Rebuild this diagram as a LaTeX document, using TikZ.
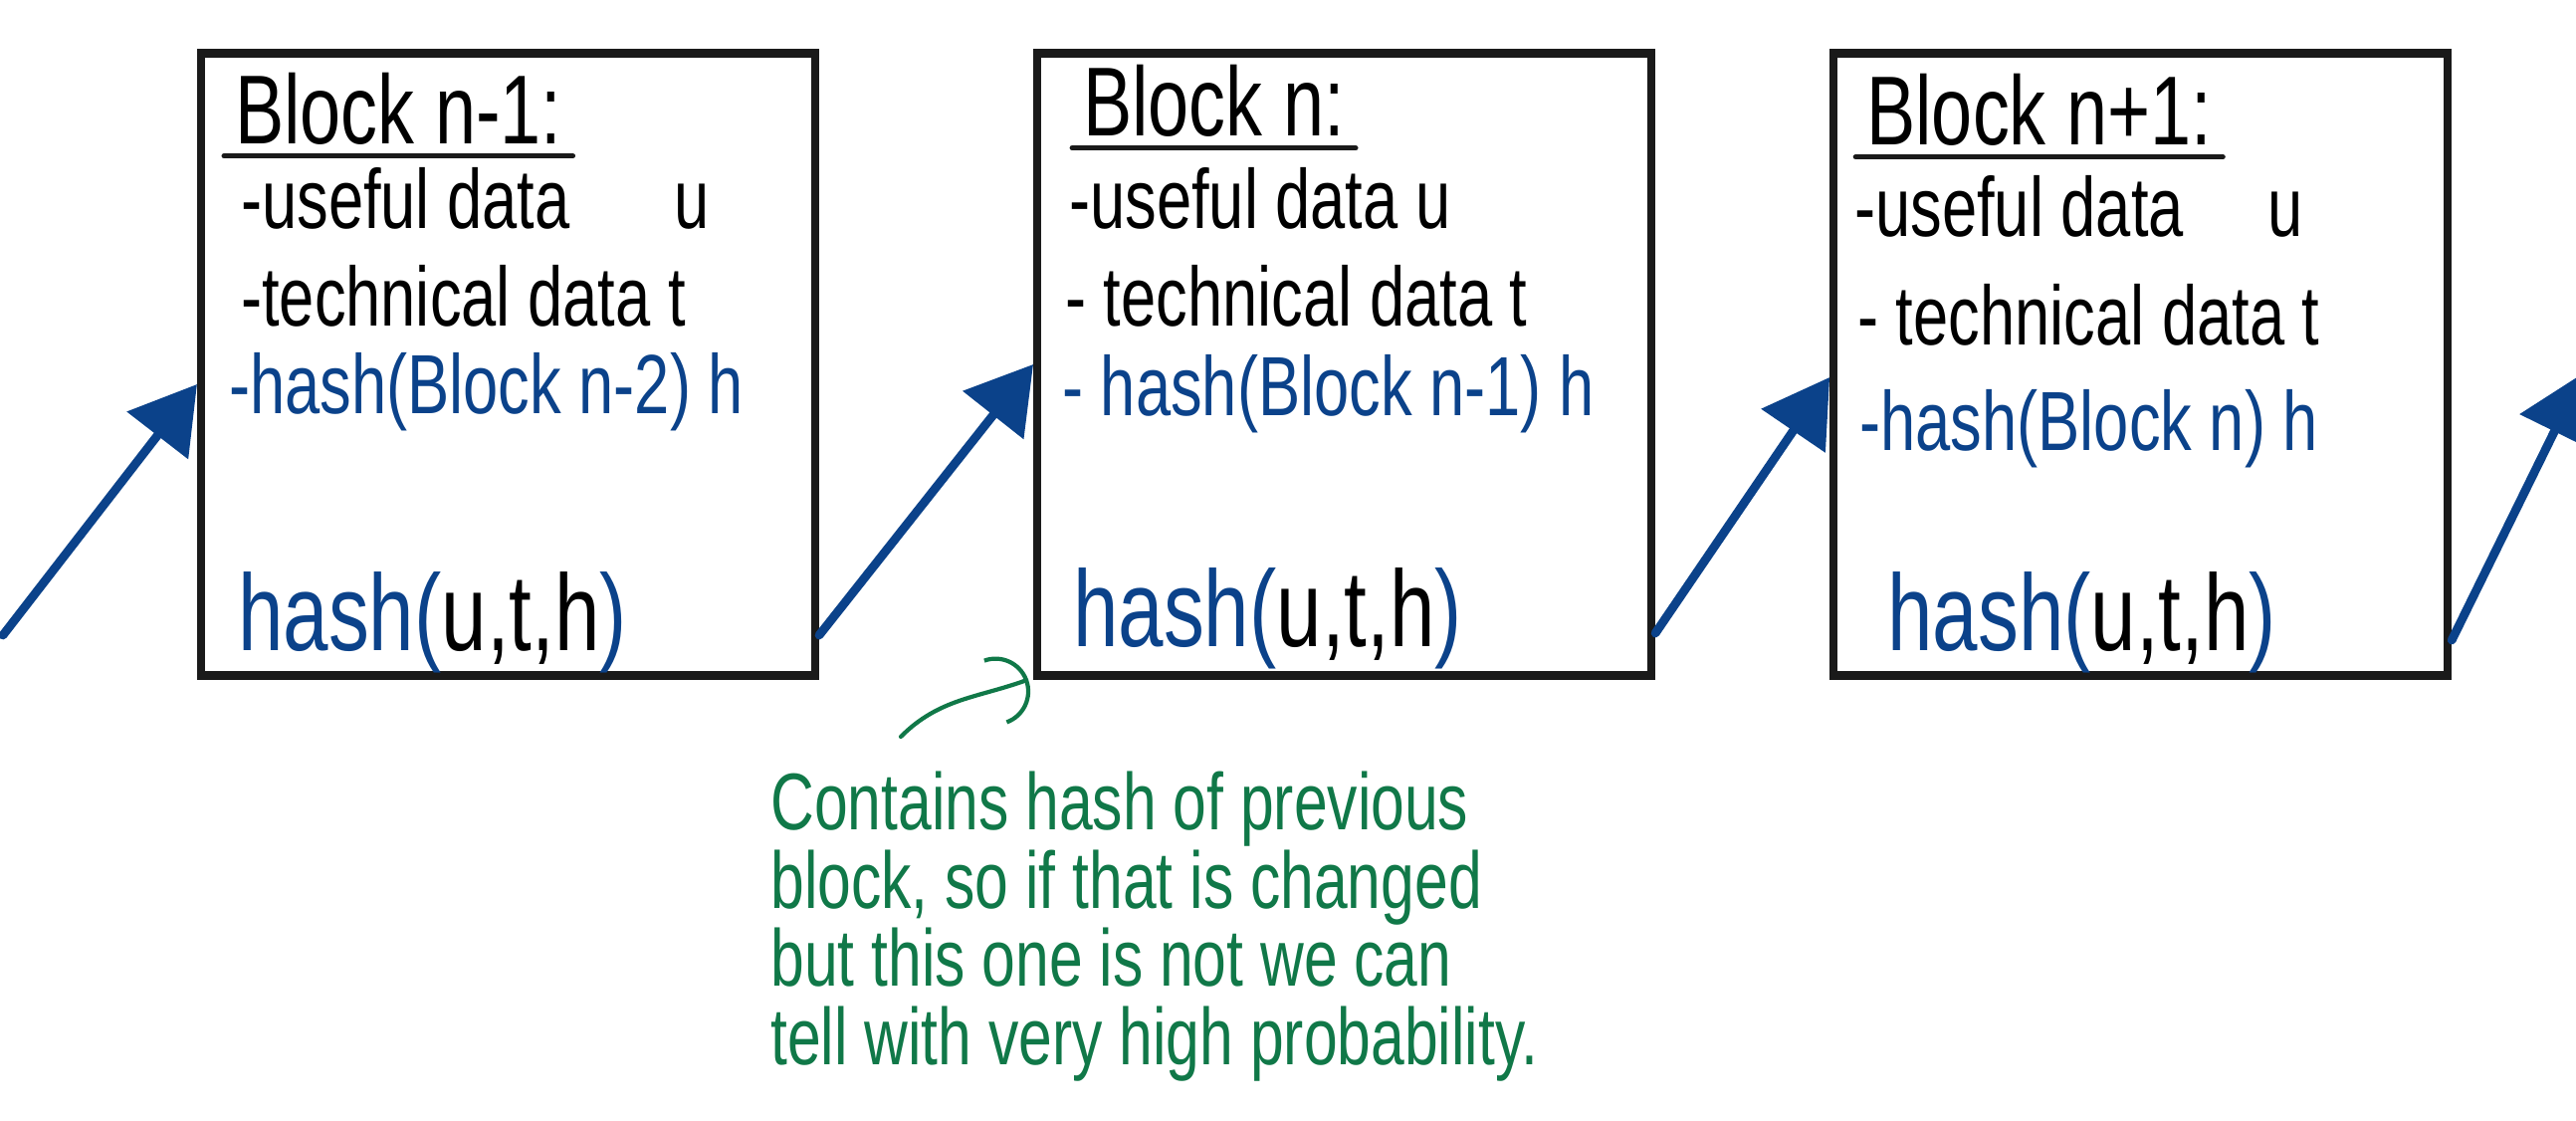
\documentclass[tikz,border=0pt]{standalone}
\usepackage{fontspec}
\setmainfont{Liberation Sans}[FakeStretch=0.75]
\usetikzlibrary{arrows.meta, positioning}
\definecolor{chainblue}{RGB}{11,66,138}
\definecolor{notegreen}{RGB}{16,120,72}
\definecolor{boxblack}{RGB}{26,26,26}
\tikzset{
  block/.style={rectangle, draw=boxblack, line width=2.3pt, minimum width=6.17cm, minimum height=6.25cm},
  txt/.style={anchor=base west, inner sep=1pt, font=\fontsize{24}{26}\selectfont},
  title/.style={txt, inner sep=3pt, font=\fontsize{28}{30}\selectfont},
  hsum/.style={txt, font=\fontsize{31}{33}\selectfont},
  uline/.style={draw=boxblack, line width=1.4pt, line cap=round},
  link/.style={draw=chainblue, line width=2.5pt, line cap=round, -{Triangle[length=6.5mm, width=7.6mm]}},
  note/.style={text=notegreen, align=left, anchor=north west, font=\fontsize{23}{22.3}\selectfont},
  pointer/.style={draw=notegreen, line width=1.2pt, line cap=round, -{Arc Barb[length=3.5mm, width=7mm]}}
}

\begin{document}
\begin{tikzpicture}
  \useasboundingbox (0,0) rectangle (25.88,-11.26);

  \node[block] (blk1) at (5.105,-3.66) {};
  \node[block, right=2.15cm of blk1] (blk2) {};
  \node[block, right=1.75cm of blk2] (blk3) {};

  % block n-1
  \node[title] (t1) at ([shift={(0.27,-0.95)}]blk1.north west) {Block n-1:};
  \draw[uline] (t1.south west) -- (t1.south east);
  \node[txt] (u1) at ([shift={(0.40,-1.80)}]blk1.north west) {-useful data\hspace{1.05cm}u};
  \node[txt] (tc1) at ([shift={(0.40,-2.78)}]blk1.north west) {-technical data t};
  \node[txt, text=chainblue] (h1) at ([shift={(0.28,-3.66)}]blk1.north west) {-hash(Block n-2) h};
  \node[hsum] (s1) at ([shift={(0.37,-6.04)}]blk1.north west) {\textcolor{chainblue}{hash(}u,t,h\textcolor{chainblue}{)}};

  % block n
  \node[title] (t2) at ([shift={(0.39,-0.87)}]blk2.north west) {Block n:};
  \draw[uline] (t2.south west) -- (t2.south east);
  \node[txt] (u2) at ([shift={(0.32,-1.80)}]blk2.north west) {-useful data u};
  \node[txt] (tc2) at ([shift={(0.28,-2.78)}]blk2.north west) {- technical data t};
  \node[txt, text=chainblue] (h2) at ([shift={(0.25,-3.68)}]blk2.north west) {- hash(Block n-1) h};
  \node[hsum] (s2) at ([shift={(0.36,-6.00)}]blk2.north west) {\textcolor{chainblue}{hash(}u,t,h\textcolor{chainblue}{)}};

  % block n+1
  \node[title] (t3) at ([shift={(0.26,-0.96)}]blk3.north west) {Block n+1:};
  \draw[uline] (t3.south west) -- (t3.south east);
  \node[txt] (u3) at ([shift={(0.21,-1.88)}]blk3.north west) {-useful data\quad u};
  \node[txt] (tc3) at ([shift={(0.24,-2.97)}]blk3.north west) {- technical data t};
  \node[txt, text=chainblue] (h3) at ([shift={(0.26,-4.03)}]blk3.north west) {-hash(Block n) h};
  \node[hsum] (s3) at ([shift={(0.54,-6.04)}]blk3.north west) {\textcolor{chainblue}{hash(}u,t,h\textcolor{chainblue}{)}};

  % chain links
  \coordinate (in0) at (0.03,-6.38);
  \coordinate (out3) at (25.95,-3.75);
  \draw[link] (in0) -- ([yshift=-0.2cm]blk1.west);
  \draw[link] ([yshift=-2.72cm]blk1.east) -- (blk2.west);
  \draw[link] ([yshift=-2.70cm]blk2.east) -- ([yshift=-0.13cm]blk3.west);
  \draw[link] ([yshift=-2.77cm]blk3.east) -- (out3);

  % annotation
  \node[note] (note) at (7.62,-7.63) {Contains hash of previous\\block, so if that is changed\\but this one is not we can\\tell with very high probability.};
  \coordinate (tip) at ([xshift=-0.05cm]blk2.south west);
  \draw[pointer] ([shift={(1.43,0.23)}]note.north west) to[out=45, in=200] (tip);
\end{tikzpicture}
\end{document}
